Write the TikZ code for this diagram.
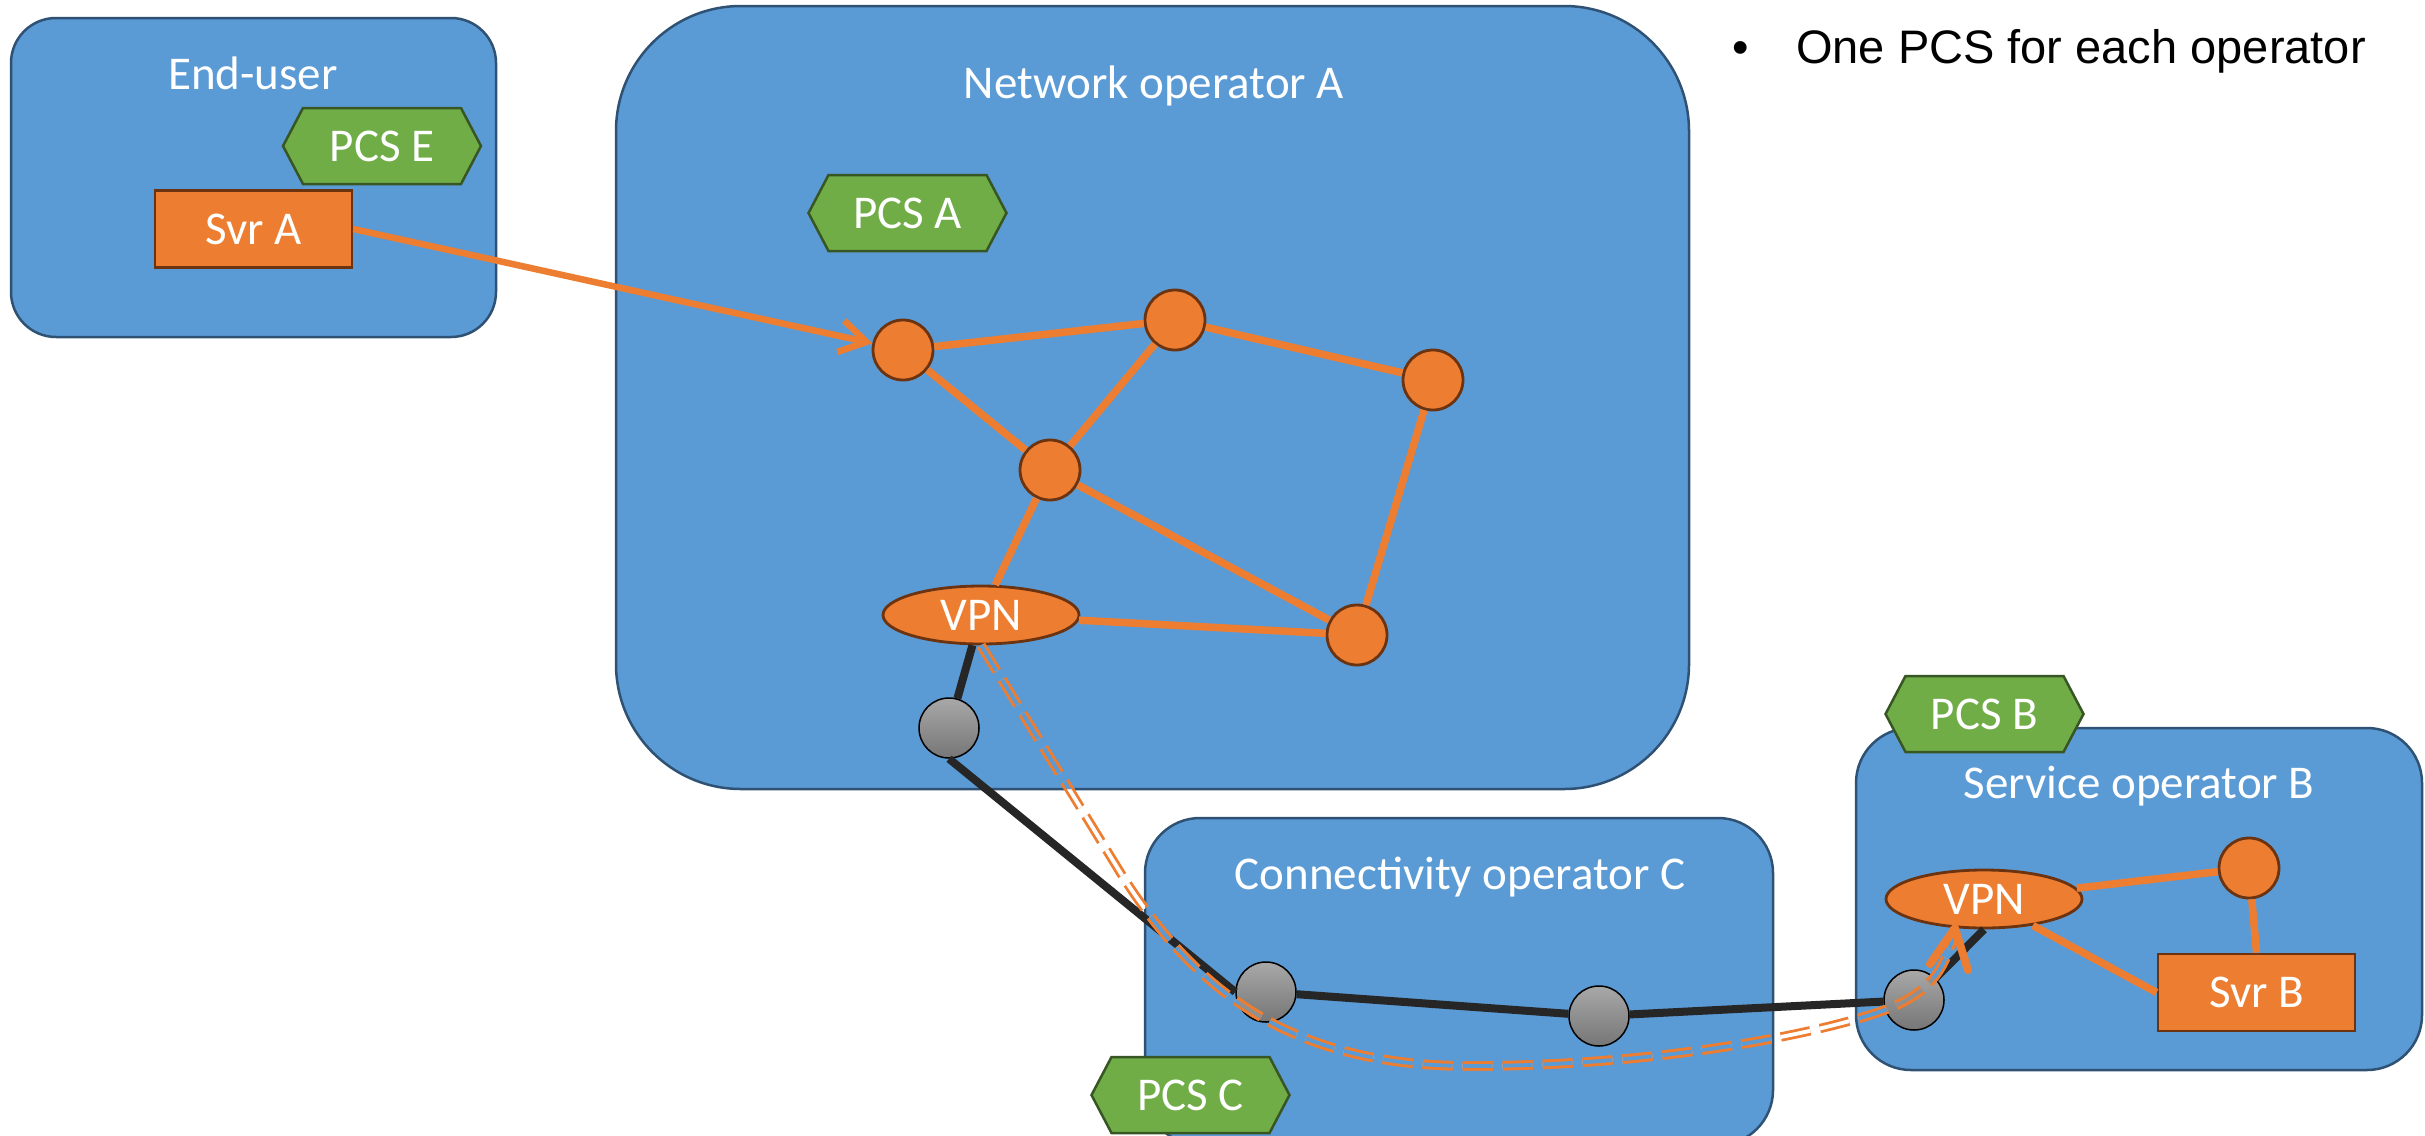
\documentclass[tikz,border=0pt]{standalone}
\usepackage{fontspec}
\setmainfont{Carlito}
\newfontfamily\arialfam{Liberation Sans}
\usetikzlibrary{shapes.geometric,arrows.meta,calc}
\definecolor{boxblue}{HTML}{5B9BD5}
\definecolor{boxline}{HTML}{2F5274}
\definecolor{orng}{HTML}{ED7D31}
\definecolor{orngline}{HTML}{6B3310}
\definecolor{grn}{HTML}{70AD47}
\definecolor{grnline}{HTML}{375623}
\definecolor{gtop}{HTML}{A8A8A8}
\definecolor{gbot}{HTML}{767676}
\definecolor{blk}{HTML}{262626}
\definecolor{gmid}{HTML}{909090}
\newcommand{\pcshex}[4]{%
  \path[hexa, shift={(#2,#3)}] (-99,0) -- (-79,-38) -- (79,-38) -- (99,0) -- (79,38) -- (-79,38) -- cycle;
  \node[lbl] (#1) at (#2,#3) {#4};}
\begin{document}
\begin{tikzpicture}[x=1pt,y=-1pt,
  opbox/.style={draw=boxline, line width=2.5pt, fill=boxblue, inner sep=0pt},
  lbl/.style={text=white, font=\fontsize{47}{56}\selectfont, inner sep=0pt},
  boxtitle/.style={lbl, anchor=base},
  onode/.style={circle, draw=orngline, fill=orng, line width=2.8pt, minimum size=60pt, inner sep=0pt},
  gnode/.style={circle, draw=black, line width=1.5pt, top color=gtop, bottom color=gbot, minimum size=60pt, inner sep=0pt},
  vpnnode/.style={ellipse, draw=orngline, fill=orng, line width=2.8pt, minimum width=196pt, minimum height=58pt, inner sep=0pt, text=white, font=\fontsize{47}{56}\selectfont},
  svr/.style={rectangle, draw=orngline, fill=orng, line width=2.8pt, minimum width=197pt, minimum height=77pt, inner sep=0pt, text=white, font=\fontsize{47}{56}\selectfont},
  oedge/.style={draw=orng, line width=7.5pt},
  bedge/.style={draw=blk, line width=8pt},
  hexa/.style={draw=grnline, fill=grn, line width=2.5pt},
  vpnpath/.style={draw=orng, line width=2.8pt, double distance=3.8pt, dash pattern=on 30pt off 10pt},
  chev/.style={draw=orng, line width=8pt, line cap=round, line join=round}
]
\useasboundingbox (0,0) rectangle (2425,1135);
\clip (0,0) rectangle (2425,1135);
\fill[white] (0,0) rectangle (2425,1135);

% operator boxes
\node[opbox, rounded corners=45pt, minimum width=485pt, minimum height=319pt] (user) at (253.5,177.5) {};
\node[opbox, rounded corners=125pt, minimum width=1073pt, minimum height=783pt] (netA) at (1152.5,397.5) {};
\node[opbox, rounded corners=55pt, minimum width=628pt, minimum height=327pt] (connC) at (1459,981.5) {};
\node[opbox, rounded corners=55pt, minimum width=566pt, minimum height=342pt] (servB) at (2139,899) {};

\node[boxtitle] (userT) at (253,89) {End-user};
\node[boxtitle] (netAT) at (1154,98) {Network operator A};
\node[boxtitle] (connCT) at (1460,889) {Connectivity operator C};
\node[boxtitle] (servBT) at (2139,798) {Service operator B};

% PCS hexagons
\pcshex{pcsE}{382}{146}{PCS E}
\pcshex{pcsA}{907.5}{213}{PCS A}
\pcshex{pcsB}{1984.5}{714}{PCS B}
\pcshex{pcsC}{1190.5}{1095}{PCS C}

% nodes
\node[svr] (svrA) at (253.5,229) {Svr A};
\node[onode] (n1) at (903,350) {};
\node[onode] (n2) at (1175,320) {};
\node[onode] (n3) at (1433,380) {};
\node[onode] (n4) at (1050,470) {};
\node[onode] (n5) at (1357,635) {};
\node[vpnnode] (vpnA) at (981,615) {VPN};
\node[gnode] (gA) at (949,728) {};
\node[gnode] (c1) at (1266,992) {};
\node[gnode] (c2) at (1599,1016) {};
\node[gnode] (gB) at (1914,1000) {};
\node[vpnnode] (vpnB) at (1984,899) {VPN};
\node[onode] (nB) at (2249,868) {};
\node[svr] (svrB) at (2256.5,992.5) {Svr B};

% orange links
\draw[oedge, line width=6.5pt, -{Straight Barb[length=26pt,width=32pt]}] (svrA.east) -- (n1);
\draw[oedge] (n1) -- (n2);
\draw[oedge] (n2) -- (n3);
\draw[oedge] (n1) -- (n4);
\draw[oedge] (n2) -- (n4);
\draw[oedge] (n3) -- (n5);
\draw[oedge] (n4) -- (n5);
\draw[oedge] (n4) -- (vpnA);
\draw[oedge] (vpnA) -- (n5);
\draw[oedge] (vpnB) -- (nB);
\draw[oedge] (vpnB) -- (svrB.west);
\draw[oedge] (nB) -- (svrB.north);

% black links
\draw[bedge] (vpnA) -- (gA);
\draw[bedge] (gA.south) -- (c1.west);
\draw[bedge] (c1) -- (c2);
\draw[bedge] (c2) -- (gB);
\draw[bedge] (gB) -- (vpnB.south);

% VPN tunnel
\coordinate (tipB) at (vpnB.225);
\draw[vpnpath, double=white] (vpnA.south) -- (1120,872) .. controls (1200,1000) and (1300,1066) .. (1470,1066) .. controls (1640,1066) and (1790,1040) .. (1870,1015) .. controls (1925,998) and (1945,975) .. (tipB);
\begin{scope}
  \clip (616,6) rectangle (1689,789) (1145,818) rectangle (1773,1145) (1856,728) rectangle (2422,1070);
  \draw[vpnpath, double=boxblue] (vpnA.south) -- (1120,872) .. controls (1200,1000) and (1300,1066) .. (1470,1066) .. controls (1640,1066) and (1790,1040) .. (1870,1015) .. controls (1925,998) and (1945,975) .. (tipB);
\end{scope}
\begin{scope}
  \clip (c1) circle (29) (gB) circle (29);
  \draw[vpnpath, double=gmid] (vpnA.south) -- (1120,872) .. controls (1200,1000) and (1300,1066) .. (1470,1066) .. controls (1640,1066) and (1790,1040) .. (1870,1015) .. controls (1925,998) and (1945,975) .. (tipB);
\end{scope}
\draw[chev] ($(tipB)+(-25,36)$) -- (tipB) -- ($(tipB)+(13,42)$);

% bullet text
\node[anchor=base, inner sep=0pt, font=\arialfam\fontsize{47}{56}\selectfont] (bul) at (1741,63) {•};
\node[anchor=base west, inner sep=0pt, font=\arialfam\fontsize{47}{56}\selectfont] (note) at (1796,63) {One PCS for each operator};
\end{tikzpicture}
\end{document}
